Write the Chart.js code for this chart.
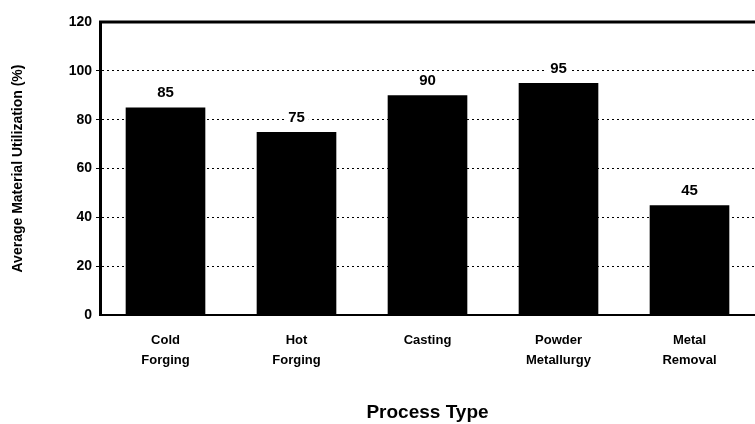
<!DOCTYPE html>
<html>
<head>
<meta charset="utf-8">
<script src="https://cdn.jsdelivr.net/npm/chart.js@4"></script>
<style>
  body { margin: 0; background: #fff; }
</style>
</head>
<body>
<canvas id="myChart" width="755" height="424"></canvas>
<script>
// process types (two-line tick labels) and utilization values
const categories = [
    ['Cold', 'Forging'],
    ['Hot', 'Forging'],
    ['Casting'],
    ['Powder', 'Metallurgy'],
    ['Metal', 'Removal']
];
const utilization = [85, 75, 90, 95, 45];
const yTicks = [0, 20, 40, 60, 80, 100, 120];

const FONT = '"Liberation Sans", Arial, sans-serif';

// value labels above bars, with white box that breaks the grid line
const valueLabels = {
    id: 'valueLabels',
    afterDatasetsDraw(chart) {
        const ctx = chart.ctx;
        const meta = chart.getDatasetMeta(0);
        ctx.save();
        ctx.font = 'bold 15px ' + FONT;
        ctx.textAlign = 'center';
        ctx.textBaseline = 'bottom';
        meta.data.forEach((bar, i) => {
            const txt = String(utilization[i]);
            const w = ctx.measureText(txt).width;
            const y = bar.y - 7;
            ctx.fillStyle = '#fff';
            ctx.fillRect(bar.x - w / 2 - 4, y - 16, w + 8, 16);
            ctx.fillStyle = '#000';
            ctx.fillText(txt, bar.x, y);
        });
        ctx.restore();
    }
};

// solid frame line along the top of the plot
const topFrame = {
    id: 'topFrame',
    afterDraw(chart) {
        const ctx = chart.ctx;
        const y = chart.scales.y.getPixelForValue(yTicks[yTicks.length - 1]);
        ctx.save();
        ctx.strokeStyle = '#000';
        ctx.lineWidth = 3;
        ctx.beginPath();
        ctx.moveTo(chart.chartArea.left - 1, y);
        ctx.lineTo(chart.chartArea.right, y);
        ctx.stroke();
        ctx.restore();
    }
};

const config = {
    type: 'bar',
    data: {
        labels: categories,
        datasets: [{
            label: 'Average Material Utilization (%)',
            data: utilization,
            backgroundColor: '#000',
            borderWidth: 0,
            categoryPercentage: 0.8,
            barPercentage: 0.76
        }]
    },
    options: {
        responsive: false,
        animation: false,
        layout: { padding: { top: 22, right: 0, left: 0, bottom: 0 } },
        plugins: {
            legend: { display: false },
            tooltip: { enabled: false }
        },
        scales: {
            x: {
                grid: { display: false },
                border: { display: true, color: '#000', width: 2 },
                ticks: {
                    color: '#000',
                    padding: 8,
                    maxRotation: 0,
                    font: { family: FONT, size: 13, weight: 'bold', lineHeight: 1.5 }
                },
                title: {
                    display: true,
                    text: 'Process Type',
                    color: '#000',
                    padding: { top: 20, bottom: 0 },
                    font: { family: FONT, size: 19, weight: 'bold' }
                },
                afterFit(scale) { scale.height = 109; }
            },
            y: {
                min: 0,
                max: 120,
                afterBuildTicks(scale) {
                    scale.ticks = yTicks.map(v => ({ value: v }));
                },
                grid: {
                    color: ctx => (ctx.tick && (ctx.tick.value === 0 || ctx.tick.value === 120)) ? 'rgba(0,0,0,0)' : '#000',
                    lineWidth: 1,
                    drawTicks: true,
                    tickLength: 4
                },
                border: { display: true, color: '#000', width: 3, dash: [2, 3] },
                ticks: {
                    color: '#000',
                    padding: 4,
                    font: { family: FONT, size: 14, weight: 'bold' }
                },
                title: {
                    display: true,
                    text: 'Average Material Utilization (%)',
                    color: '#000',
                    padding: { top: 10, bottom: 0 },
                    font: { family: FONT, size: 14, weight: 'bold' }
                },
                afterFit(scale) { scale.width = 100; }
            }
        }
    },
    plugins: [valueLabels, topFrame]
};

const myChart = new Chart(document.getElementById('myChart'), config);
</script>
</body>
</html>
